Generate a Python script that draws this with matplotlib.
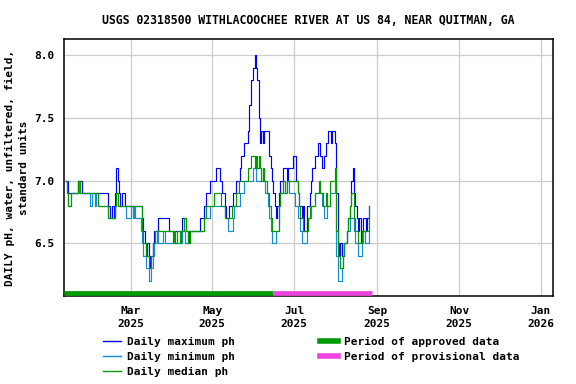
import matplotlib
matplotlib.use("Agg")
import matplotlib.pyplot as plt
import matplotlib.dates as mdates
from matplotlib.lines import Line2D
import pandas as pd

# ---------------------------------------------------------------------------
# data: daily pH, one value per day starting 2025-01-12
start_date = "2025-01-12"

ph_max = [
    7.0, 7.0, 6.9, 6.9, 6.9, 6.9, 6.9, 6.9, 6.9, 7.0,
    7.0, 7.0, 6.9, 6.9, 6.9, 6.9, 6.9, 6.9, 6.9, 6.9,
    6.9, 6.9, 6.9, 6.9, 6.9, 6.9, 6.9, 6.9, 6.9, 6.9,
    6.9, 6.9, 6.8, 6.7, 6.7, 6.8, 6.7, 6.9, 7.1, 7.0,
    6.9, 6.8, 6.9, 6.9, 6.8, 6.8, 6.8, 6.8, 6.8, 6.8,
    6.8, 6.8, 6.8, 6.8, 6.8, 6.8, 6.8, 6.7, 6.6, 6.5,
    6.4, 6.5, 6.4, 6.3, 6.4, 6.5, 6.6, 6.6, 6.6, 6.7,
    6.7, 6.7, 6.7, 6.7, 6.7, 6.7, 6.7, 6.6, 6.6, 6.6,
    6.6, 6.6, 6.6, 6.6, 6.6, 6.6, 6.6, 6.7, 6.7, 6.7,
    6.6, 6.5, 6.6, 6.6, 6.6, 6.6, 6.6, 6.6, 6.6, 6.6,
    6.7, 6.7, 6.7, 6.8, 6.8, 6.9, 6.9, 6.9, 7.0, 7.0,
    7.0, 7.0, 7.1, 7.1, 7.1, 7.0, 7.0, 6.9, 6.9, 6.8,
    6.7, 6.7, 6.8, 6.8, 6.8, 6.9, 6.9, 7.0, 7.0, 7.0,
    7.1, 7.2, 7.2, 7.3, 7.3, 7.3, 7.4, 7.6, 7.8, 7.8,
    7.9, 8.0, 7.9, 7.8, 7.5, 7.3, 7.4, 7.3, 7.4, 7.4,
    7.4, 7.4, 7.2, 7.1, 7.0, 6.9, 6.8, 6.7, 6.8, 6.9,
    7.0, 7.0, 7.1, 7.1, 7.1, 7.0, 7.1, 7.1, 7.1, 7.1,
    7.2, 7.2, 7.0, 6.9, 6.8, 6.8, 6.7, 6.8, 6.6, 6.6,
    6.8, 6.8, 6.9, 7.0, 7.1, 7.1, 7.2, 7.2, 7.3, 7.3,
    7.2, 7.1, 7.1, 7.2, 7.3, 7.3, 7.4, 7.4, 7.3, 7.4,
    7.4, 7.3, 6.9, 6.5, 6.4, 6.5, 6.4, 6.4, 6.5, 6.5,
    6.6, 6.7, 6.8, 7.0, 7.1, 6.9, 6.8, 6.7, 6.6, 6.7,
    6.5, 6.6, 6.7, 6.7, 6.6, 6.7, 6.8,
]

ph_min = [
    7.0, 6.9, 6.8, 6.8, 6.9, 6.9, 6.9, 6.9, 6.9, 7.0,
    6.9, 6.9, 6.9, 6.9, 6.9, 6.9, 6.9, 6.9, 6.8, 6.8,
    6.9, 6.9, 6.8, 6.9, 6.8, 6.8, 6.8, 6.8, 6.8, 6.8,
    6.8, 6.8, 6.7, 6.7, 6.7, 6.7, 6.7, 6.8, 6.9, 6.8,
    6.8, 6.8, 6.8, 6.8, 6.8, 6.7, 6.7, 6.7, 6.7, 6.8,
    6.7, 6.8, 6.7, 6.7, 6.7, 6.7, 6.6, 6.5, 6.4, 6.4,
    6.3, 6.3, 6.2, 6.2, 6.3, 6.4, 6.5, 6.5, 6.6, 6.5,
    6.5, 6.5, 6.5, 6.6, 6.5, 6.5, 6.5, 6.5, 6.5, 6.5,
    6.5, 6.5, 6.5, 6.5, 6.5, 6.5, 6.5, 6.6, 6.6, 6.5,
    6.5, 6.5, 6.5, 6.6, 6.6, 6.6, 6.6, 6.6, 6.6, 6.6,
    6.6, 6.6, 6.6, 6.7, 6.7, 6.7, 6.7, 6.7, 6.8, 6.8,
    6.8, 6.8, 6.8, 6.8, 6.8, 6.8, 6.8, 6.8, 6.8, 6.7,
    6.7, 6.6, 6.6, 6.6, 6.6, 6.7, 6.8, 6.8, 6.8, 6.8,
    6.9, 6.9, 6.9, 7.0, 7.0, 7.0, 7.0, 7.0, 7.0, 7.0,
    7.1, 7.1, 7.0, 7.0, 7.0, 7.0, 7.0, 7.1, 7.0, 6.9,
    6.9, 6.8, 6.7, 6.6, 6.5, 6.5, 6.5, 6.6, 6.6, 6.8,
    6.9, 6.9, 6.9, 6.9, 6.9, 7.0, 7.0, 6.9, 6.9, 6.9,
    6.9, 6.8, 6.8, 6.7, 6.7, 6.6, 6.5, 6.5, 6.5, 6.5,
    6.6, 6.7, 6.7, 6.8, 6.8, 6.8, 6.9, 6.9, 6.9, 6.9,
    6.9, 6.8, 6.8, 6.7, 6.7, 6.8, 6.8, 6.9, 6.9, 6.9,
    6.9, 7.0, 6.4, 6.2, 6.2, 6.2, 6.3, 6.4, 6.5, 6.5,
    6.6, 6.6, 6.7, 6.7, 6.7, 6.6, 6.5, 6.5, 6.4, 6.4,
    6.4, 6.5, 6.6, 6.5, 6.5, 6.5, 6.6,
]

ph_median = [
    7.0, 6.9, 6.8, 6.8, 6.9, 6.9, 6.9, 6.9, 6.9, 7.0,
    7.0, 6.9, 6.9, 6.9, 6.9, 6.9, 6.9, 6.9, 6.9, 6.9,
    6.9, 6.9, 6.9, 6.9, 6.8, 6.8, 6.8, 6.8, 6.8, 6.8,
    6.8, 6.8, 6.7, 6.7, 6.7, 6.7, 6.7, 6.8, 6.9, 6.8,
    6.8, 6.8, 6.8, 6.8, 6.8, 6.8, 6.8, 6.8, 6.8, 6.8,
    6.8, 6.8, 6.8, 6.8, 6.8, 6.8, 6.8, 6.6, 6.5, 6.5,
    6.4, 6.4, 6.3, 6.3, 6.4, 6.5, 6.5, 6.6, 6.6, 6.6,
    6.6, 6.6, 6.6, 6.6, 6.6, 6.6, 6.6, 6.6, 6.6, 6.6,
    6.5, 6.6, 6.5, 6.6, 6.6, 6.5, 6.6, 6.6, 6.7, 6.7,
    6.6, 6.5, 6.5, 6.6, 6.6, 6.6, 6.6, 6.6, 6.6, 6.6,
    6.6, 6.6, 6.6, 6.7, 6.7, 6.8, 6.8, 6.8, 6.8, 6.8,
    6.8, 6.9, 6.9, 6.9, 6.9, 6.9, 6.8, 6.8, 6.8, 6.7,
    6.7, 6.7, 6.7, 6.7, 6.8, 6.8, 6.8, 6.9, 6.9, 7.0,
    7.0, 7.0, 7.0, 7.0, 7.0, 7.0, 7.1, 7.1, 7.2, 7.2,
    7.2, 7.1, 7.2, 7.1, 7.2, 7.1, 7.0, 7.1, 7.0, 7.0,
    6.9, 6.9, 6.8, 6.7, 6.6, 6.6, 6.6, 6.6, 6.6, 6.8,
    6.9, 6.9, 7.0, 7.0, 6.9, 7.0, 7.0, 7.0, 7.0, 7.0,
    7.0, 7.0, 7.0, 6.9, 6.8, 6.7, 6.7, 6.6, 6.6, 6.6,
    6.6, 6.7, 6.8, 6.8, 6.8, 6.8, 6.9, 6.9, 6.9, 7.0,
    6.9, 6.9, 6.8, 6.8, 6.9, 6.8, 6.8, 7.0, 7.0, 7.0,
    7.0, 7.1, 6.6, 6.4, 6.4, 6.3, 6.3, 6.4, 6.5, 6.5,
    6.6, 6.7, 6.8, 6.9, 6.9, 6.7, 6.6, 6.6, 6.5, 6.5,
    6.5, 6.6, 6.6, 6.6, 6.6, 6.6, 6.8,
]

# approval periods (start, end)
approved_period = ("2025-01-10", "2025-06-15")
provisional_period = ("2025-06-15", "2025-08-28")

x_range = ("2025-01-10", "2026-01-10")
y_range = (6.08, 8.13)
y_ticks = [6.5, 7.0, 7.5, 8.0]

title = "USGS 02318500 WITHLACOOCHEE RIVER AT US 84, NEAR QUITMAN, GA"
ylabel = "DAILY pH, water, unfiltered, field,\nstandard units"

c_max = "#0000FF"
c_min = "#118DD6"
c_med = "#009900"
c_appr = "#009900"
c_prov = "#EE44DD"

# ---------------------------------------------------------------------------
FONT = "DejaVu Sans Mono"
plt.rcParams["font.family"] = FONT
plt.rcParams["font.weight"] = "bold"
plt.rcParams["font.size"] = 8

dates = pd.date_range(start_date, periods=len(ph_max), freq="D")

fig = plt.figure(figsize=(5.76, 3.84), dpi=100)
ax = fig.add_axes([63.5 / 576, 1 - 296 / 384, (553 - 63.5) / 576, (296 - 39) / 384])

ax.plot(dates, ph_max, color=c_max, lw=0.85, drawstyle="steps-mid", zorder=3)
ax.plot(dates, ph_min, color=c_min, lw=0.85, drawstyle="steps-mid", zorder=3)
ax.plot(dates, ph_median, color=c_med, lw=0.85, drawstyle="steps-mid", zorder=4)

xt = ax.get_xaxis_transform()
ax.plot(pd.to_datetime(list(approved_period)), [0.012, 0.012], color=c_appr,
        lw=3.4, transform=xt, solid_capstyle="butt", zorder=5, clip_on=False)
ax.plot(pd.to_datetime(list(provisional_period)), [0.012, 0.012], color=c_prov,
        lw=3.4, transform=xt, solid_capstyle="butt", zorder=5, clip_on=False)

ax.set_xlim(pd.Timestamp(x_range[0]), pd.Timestamp(x_range[1]))
ax.set_ylim(*y_range)
ax.set_yticks(y_ticks)
ax.set_yticklabels([f"{v:.1f}" for v in y_ticks])
ax.xaxis.set_major_locator(mdates.MonthLocator(bymonth=[1, 3, 5, 7, 9, 11]))
ax.xaxis.set_major_formatter(mdates.DateFormatter("%b\n%Y"))
ax.tick_params(axis="both", length=0, labelsize=8)
ax.tick_params(axis="y", pad=6.5)
ax.tick_params(axis="x", pad=7)
for lbl in ax.get_xticklabels():
    lbl.set_linespacing(1.45)
ax.grid(True, color="#cccccc", lw=0.9)
ax.set_axisbelow(True)
for s in ax.spines.values():
    s.set_linewidth(1.1)
    s.set_color("black")

fig.text(308 / 576, 1 - 20 / 384, title, ha="center", va="center",
         fontsize=8.3, fontweight="bold")
fig.text(17 / 576, 1 - 168 / 384, ylabel, ha="center", va="center",
         rotation=90, fontsize=8, fontweight="bold", multialignment="center",
         linespacing=1.5)

handles = [
    Line2D([], [], color=c_max, lw=1),
    Line2D([], [], color=c_min, lw=1),
    Line2D([], [], color=c_med, lw=1),
    Line2D([], [], color=c_appr, lw=4),
    Line2D([], [], color=c_prov, lw=4),
]
labels = ["Daily maximum ph", "Daily minimum ph", "Daily median ph",
          "Period of approved data", "Period of provisional data"]
fig.legend(handles, labels, ncol=2, loc="upper left",
           bbox_to_anchor=(103 / 576, 1 - 337 / 384), frameon=False,
           borderpad=0, borderaxespad=0, handlelength=1.6, handletextpad=0.6,
           labelspacing=0.45, columnspacing=7.6, fontsize=8)

fig.savefig("out.png", dpi=100)
